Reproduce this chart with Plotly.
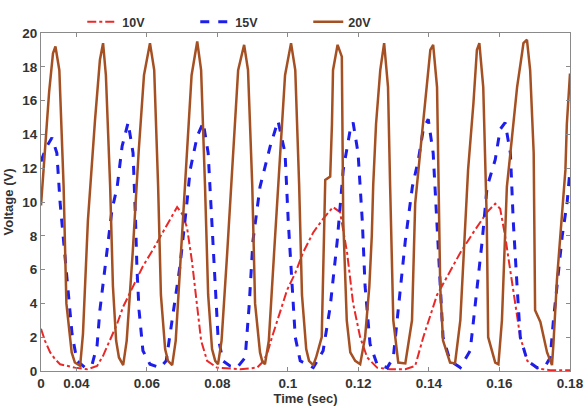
import plotly.graph_objects as go

# 10V series (red, dash-dot)
t_10v = [0.0300, 0.0311, 0.0326, 0.0340, 0.0354, 0.0374, 0.0396, 0.0431, 0.0459, 0.0476,
         0.0496, 0.0516, 0.0533, 0.0561, 0.0589, 0.0618, 0.0646, 0.0666, 0.0686, 0.0700,
         0.0714, 0.0728, 0.0743, 0.0754, 0.0771, 0.0799, 0.0865, 0.0913, 0.0927, 0.0941,
         0.0955, 0.0970, 0.0998, 0.1021, 0.1043, 0.1072, 0.1100, 0.1128, 0.1148, 0.1168,
         0.1185, 0.1205, 0.1225, 0.1253, 0.1290, 0.1333, 0.1361, 0.1384, 0.1404, 0.1423,
         0.1452, 0.1489, 0.1526, 0.1565, 0.1588, 0.1602, 0.1616, 0.1631, 0.1645, 0.1659,
         0.1679, 0.1707, 0.1744, 0.1800]
v_10v = [2.5, 1.8, 1.1, 0.7, 0.4, 0.3, 0.2, 0.1, 0.3, 0.9,
         1.8, 2.8, 3.8, 5.0, 6.2, 7.2, 8.2, 9.0, 9.7, 9.3,
         8.5, 6.5, 3.8, 1.8, 0.6, 0.2, 0.1, 0.2, 0.5, 1.0,
         2.0, 3.0, 4.8, 5.8, 7.0, 8.2, 9.0, 9.7, 9.4, 7.0,
         4.0, 2.0, 0.8, 0.2, 0.1, 0.1, 0.3, 2.0, 3.3, 4.5,
         5.6, 7.0, 8.2, 9.4, 9.9, 9.6, 8.0, 6.0, 4.0, 2.0,
         0.6, 0.15, 0.05, 0.05]

# 15V series (blue, dashed)
t_15v = [0.0300, 0.0314, 0.0331, 0.0345, 0.0354, 0.0365, 0.0374, 0.0388, 0.0402, 0.0425,
         0.0445, 0.0459, 0.0467, 0.0476, 0.0487, 0.0501, 0.0516, 0.0530, 0.0547, 0.0561,
         0.0568, 0.0572, 0.0578, 0.0589, 0.0609, 0.0638, 0.0655, 0.0666, 0.0680, 0.0694,
         0.0714, 0.0723, 0.0743, 0.0760, 0.0774, 0.0785, 0.0794, 0.0802, 0.0816, 0.0836,
         0.0856, 0.0879, 0.0890, 0.0901, 0.0921, 0.0950, 0.0972, 0.0992, 0.1001, 0.1012,
         0.1021, 0.1035, 0.1072, 0.1100, 0.1120, 0.1140, 0.1157, 0.1177, 0.1185, 0.1199,
         0.1211, 0.1219, 0.1233, 0.1253, 0.1282, 0.1299, 0.1313, 0.1333, 0.1353, 0.1370,
         0.1384, 0.1398, 0.1412, 0.1423, 0.1432, 0.1440, 0.1460, 0.1489, 0.1517, 0.1537,
         0.1551, 0.1565, 0.1588, 0.1602, 0.1616, 0.1631, 0.1639, 0.1650, 0.1659, 0.1679,
         0.1707, 0.1730, 0.1744, 0.1753, 0.1767, 0.1778, 0.1792, 0.1800]
v_15v = [12.4, 13.2, 13.8, 12.9, 10.0, 7.5, 5.2, 2.2, 0.6, 0.2,
         0.4, 1.5, 3.6, 5.2, 7.2, 9.5, 10.9, 13.3, 14.7, 12.9,
         9.0, 6.1, 3.6, 1.2, 0.4, 0.2, 0.6, 2.2, 4.2, 6.2,
         10.0, 11.9, 13.9, 14.7, 12.9, 8.9, 5.0, 2.0, 0.6, 0.3,
         0.2, 0.8, 3.8, 7.7, 10.9, 13.3, 14.8, 12.9, 8.9, 5.0,
         2.0, 0.6, 0.2, 1.2, 3.8, 7.7, 11.9, 14.3, 14.7, 12.9,
         8.9, 5.0, 1.6, 0.4, 0.2, 0.8, 3.8, 7.7, 10.9, 12.5,
         14.3, 14.9, 12.9, 8.9, 5.0, 2.0, 0.6, 0.2, 1.2, 5.0,
         7.7, 10.9, 12.5, 14.3, 14.7, 12.9, 8.9, 5.0, 2.0, 0.6,
         0.2, 0.3, 0.8, 3.0, 6.0, 8.0, 10.0, 11.9]

# 20V series (brown, solid)
t_20v = [0.0300, 0.0311, 0.0323, 0.0334, 0.0341, 0.0352, 0.0364, 0.0372, 0.0387, 0.0396,
         0.0411, 0.0419, 0.0428, 0.0433, 0.0453, 0.0467, 0.0476, 0.0484, 0.0496, 0.0504,
         0.0513, 0.0521, 0.0533, 0.0543, 0.0560, 0.0577, 0.0592, 0.0609, 0.0621, 0.0632,
         0.0640, 0.0652, 0.0660, 0.0672, 0.0682, 0.0697, 0.0713, 0.0727, 0.0743, 0.0754,
         0.0765, 0.0774, 0.0785, 0.0794, 0.0802, 0.0812, 0.0828, 0.0845, 0.0859, 0.0876,
         0.0887, 0.0899, 0.0907, 0.0921, 0.0927, 0.0935, 0.0946, 0.0961, 0.0978, 0.0992,
         0.1009, 0.1021, 0.1032, 0.1040, 0.1052, 0.1060, 0.1072, 0.1080, 0.1096, 0.1101,
         0.1106, 0.1120, 0.1125, 0.1128, 0.1141, 0.1153, 0.1157, 0.1167, 0.1177, 0.1191,
         0.1205, 0.1219, 0.1231, 0.1238, 0.1242, 0.1250, 0.1262, 0.1273, 0.1284, 0.1290,
         0.1299, 0.1313, 0.1333, 0.1352, 0.1361, 0.1375, 0.1389, 0.1404, 0.1412, 0.1423,
         0.1432, 0.1440, 0.1460, 0.1474, 0.1489, 0.1503, 0.1511, 0.1526, 0.1536, 0.1543,
         0.1554, 0.1564, 0.1568, 0.1588, 0.1597, 0.1607, 0.1621, 0.1631, 0.1650, 0.1664,
         0.1668, 0.1678, 0.1687, 0.1697, 0.1701, 0.1716, 0.1735, 0.1749, 0.1753, 0.1763,
         0.1777, 0.1787, 0.1791, 0.1800]
v_20v = [9.8, 13.0, 16.5, 18.8, 19.2, 17.8, 11.0, 4.0, 1.1, 0.5,
         0.3, 2.2, 7.2, 8.9, 14.8, 18.4, 19.4, 17.5, 11.0, 5.0,
         1.8, 0.8, 0.35, 1.8, 7.0, 13.0, 17.5, 19.4, 17.8, 11.0,
         4.5, 1.3, 0.6, 0.35, 1.8, 7.0, 13.0, 17.5, 19.5, 17.8,
         11.0, 4.5, 1.3, 0.6, 0.4, 1.8, 7.0, 13.0, 17.8, 19.3,
         17.8, 11.0, 4.0, 1.1, 0.6, 0.4, 1.8, 7.0, 13.0, 17.5,
         19.4, 17.8, 11.0, 4.5, 1.3, 0.6, 0.35, 0.8, 2.0, 7.2,
         11.3, 11.5, 14.6, 17.8, 19.3, 18.6, 8.9, 3.0, 1.1, 0.6,
         0.4, 2.0, 5.0, 8.0, 11.0, 14.6, 17.8, 19.4, 16.8, 10.9,
         3.0, 0.5, 0.45, 3.0, 9.9, 12.9, 15.8, 19.0, 19.3, 16.8,
         5.0, 1.8, 0.5, 0.45, 3.0, 8.9, 11.9, 15.8, 19.0, 19.4,
         16.8, 8.9, 2.0, 0.5, 0.4, 3.0, 10.9, 12.9, 16.8, 18.8,
         19.4, 19.6, 17.8, 12.9, 3.6, 2.9, 1.1, 0.35, 1.6, 5.4,
         8.9, 11.9, 14.6, 17.6]

x_tickvals = [0.03, 0.04, 0.06, 0.08, 0.10, 0.12, 0.14, 0.16, 0.18]
x_ticktext = ["0", "0.04", "0.06", "0.08", "0.1", "0.12", "0.14", "0.16", "0.18"]

font_family = "Liberation Sans, Arial, sans-serif"

fig = go.Figure()
fig.add_trace(go.Scatter(x=t_10v, y=v_10v, mode="lines", name="10V",
                         line=dict(color="rgb(235,40,40)", width=2, dash="dashdot")))
fig.add_trace(go.Scatter(x=t_15v, y=v_15v, mode="lines", name="15V",
                         line=dict(color="rgb(30,30,235)", width=3, dash="dash")))
fig.add_trace(go.Scatter(x=t_20v, y=v_20v, mode="lines", name="20V",
                         line=dict(color="rgb(165,80,35)", width=2.5)))

axis_common = dict(
    showgrid=False, zeroline=False, showline=True, linecolor="#8a8a8a", linewidth=1,
    mirror="ticks", ticks="inside", ticklen=4, tickcolor="#8a8a8a",
    tickfont=dict(family=font_family, size=13.5, color="#333333", weight="bold"),
)

fig.update_layout(
    width=588, height=408,
    margin=dict(l=41, r=18, t=33, b=37, autoexpand=False),
    paper_bgcolor="white", plot_bgcolor="white",
    font=dict(family=font_family, color="#333333"),
    xaxis=dict(range=[0.03, 0.18], tickmode="array", tickvals=x_tickvals, ticktext=x_ticktext,
               title=dict(text="Time (sec)", standoff=1,
                          font=dict(family=font_family, size=13, color="#333333", weight="bold")),
               **axis_common),
    yaxis=dict(range=[0, 20], tickmode="linear", tick0=0, dtick=2,
               title=dict(text="Voltage (V)", standoff=5,
                          font=dict(family=font_family, size=13, color="#333333", weight="bold")),
               **axis_common),
    legend=dict(orientation="h", x=0.078, y=1.032, xanchor="left", yanchor="middle",
                entrywidth=68, entrywidthmode="pixels",
                font=dict(family=font_family, size=12.5, color="#333333", weight="bold"),
                bgcolor="rgba(0,0,0,0)", itemwidth=30),
    showlegend=True,
)

fig.write_html("out.html")
